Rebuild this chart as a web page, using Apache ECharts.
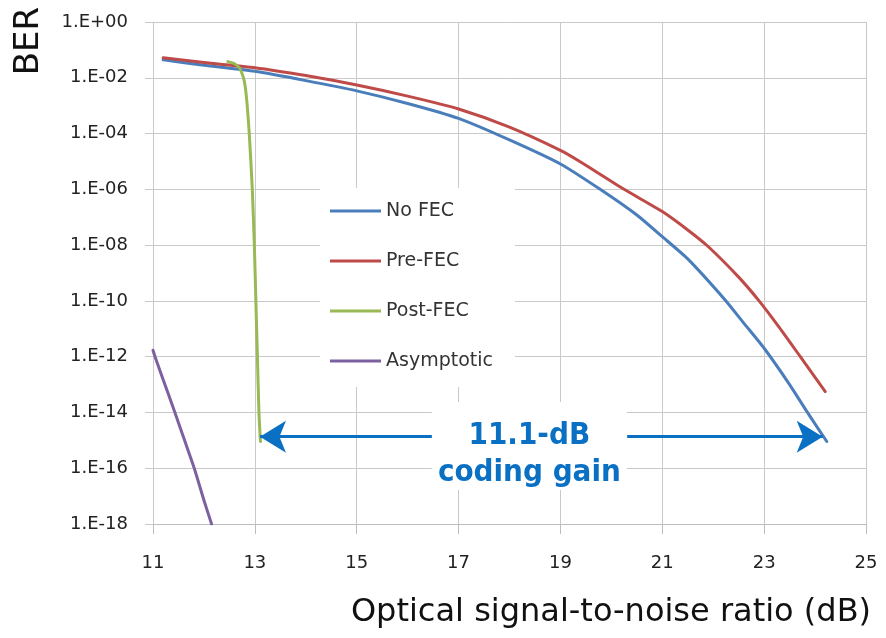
<!DOCTYPE html>
<html>
<head>
<meta charset="utf-8">
<script src="https://cdn.jsdelivr.net/npm/echarts@6/dist/echarts.min.js"></script>
<style>
html, body { margin: 0; padding: 0; background: #fff; }
#main { width: 886px; height: 638px; }
</style>
</head>
<body>
<div id="main"></div>
<script>
// OSNR (dB) and BER
var noFecSnr = [11.2, 12, 13, 14, 15, 16, 17, 18, 19, 19.78, 20.5, 21, 21.5, 22.25, 22.6, 23, 23.5, 23.85, 24.23];
var noFecBer = [4.4e-2, 2.8e-2, 1.7e-2, 7.9e-3, 3.4e-3, 1.2e-3, 3.5e-4, 5.9e-5, 8.1e-6, 1.0e-6, 1.2e-7, 2.0e-8, 3.2e-9, 1.0e-10, 1.6e-11, 2.0e-12, 1.0e-13, 1.0e-14, 9.1e-16];

var preFecSnr = [11.2, 12, 13, 14, 15, 16, 17, 18, 19, 19.38, 20.25, 21, 21.5, 21.9, 22.5, 22.9, 23.3, 23.71, 24.2];
var preFecBer = [5.2e-2, 3.5e-2, 2.3e-2, 1.2e-2, 5.5e-3, 2.2e-3, 7.6e-4, 1.7e-4, 2.5e-5, 1.0e-5, 1.0e-6, 1.6e-7, 3.5e-8, 8.9e-9, 7.1e-10, 1.0e-10, 1.1e-11, 1.0e-12, 5.6e-14];

var postFecSnr = [12.47, 12.6, 12.7, 12.77, 12.81, 12.85, 12.89, 12.95, 12.99, 13.02, 13.05, 13.08, 13.11];
var postFecBer = [3.8e-2, 3.2e-2, 2.2e-2, 1.1e-2, 5.0e-3, 1.0e-3, 1e-4, 1e-6, 1e-8, 1e-10, 1e-12, 1e-14, 9.1e-16];

var asymSnr = [11.0, 11.04, 11.2, 11.43, 11.62, 11.81, 12.0, 12.15];
var asymBer = [1.7e-12, 1e-12, 1.5e-13, 1e-14, 1e-15, 1e-16, 7.1e-18, 1e-18];

var seriesNames = ['No FEC', 'Pre-FEC', 'Post-FEC', 'Asymptotic'];
var seriesColors = ['#4a7ebb', '#be4b48', '#98b954', '#7d60a0'];

// coding gain annotation
var gainFrom = [13.1, 1.35e-15];
var gainTo = [24.15, 1.35e-15];
var gainBoxLeft = 16.48, gainBoxRight = 20.31;
var gainLabelAt = [18.39, 6.3e-16];

function pairs(xs, ys) {
    var out = [];
    for (var i = 0; i < xs.length; i++) out.push([xs[i], ys[i]]);
    return out;
}

var myChart = echarts.init(document.getElementById('main'));
var gridColor = '#c9c9c9';
var textFont = 'DejaVu Sans';

var lines = [
    pairs(noFecSnr, noFecBer),
    pairs(preFecSnr, preFecBer),
    pairs(postFecSnr, postFecBer),
    pairs(asymSnr, asymBer)
];

var series = lines.map(function (d, i) {
    return {
        name: seriesNames[i],
        type: 'line',
        data: d,
        showSymbol: false,
        smooth: 0.2,
        z: 3,
        lineStyle: { color: seriesColors[i], width: 3, join: 'round', cap: 'round' },
        itemStyle: { color: seriesColors[i] }
    };
});

// arrow + label go on the first series
series[0].markLine = {
    silent: true,
    animation: false,
    symbol: ['arrow', 'arrow'],
    symbolSize: [24, 26],
    lineStyle: { color: '#0a70c4', width: 3, type: 'solid' },
    label: { show: false },
    data: [
        [{ coord: gainFrom, symbol: 'arrow' }, { coord: [gainBoxLeft, gainFrom[1]], symbol: 'none' }],
        [{ coord: [gainBoxRight, gainTo[1]], symbol: 'none' }, { coord: gainTo, symbol: 'arrow' }]
    ]
};
series[0].markPoint = {
    silent: true,
    animation: false,
    symbol: 'rect',
    symbolSize: [195, 88],
    itemStyle: { color: '#ffffff' },
    label: {
        show: true,
        position: 'inside',
        offset: [0, 9],
        formatter: '{a|11.1-dB}\n{a|coding gain}',
        rich: {
            a: {
                fontFamily: "'DejaVu Sans Condensed', 'DejaVu Sans', sans-serif",
                fontWeight: 'bold',
                fontSize: 31,
                lineHeight: 37,
                color: '#0a70c4'
            }
        }
    },
    data: [{ coord: gainLabelAt }]
};

var opt = {
    animation: false,
    backgroundColor: '#ffffff',
    grid: { left: 153, right: 20, top: 22, bottom: 114, outerBoundsMode: 'none' },
    legend: {
        orient: 'vertical',
        left: 320,
        top: 188,
        padding: [13, 22, 16, 10],
        backgroundColor: '#ffffff',
        itemWidth: 51,
        itemHeight: 3,
        itemGap: 30,
        icon: 'rect',
        selectedMode: false,
        textStyle: { fontFamily: textFont, fontSize: 19, color: '#333', lineHeight: 20 },
        data: seriesNames
    },
    xAxis: {
        type: 'value',
        min: 11,
        max: 25,
        interval: 2,
        axisLine: { show: true, lineStyle: { color: '#bdbdbd', width: 1 } },
        axisTick: { show: true, length: 10, lineStyle: { color: '#bdbdbd' } },
        axisLabel: { fontFamily: textFont, fontSize: 18, color: '#222', margin: 30 },
        splitLine: { show: true, lineStyle: { color: gridColor, width: 1 } }
    },
    yAxis: {
        type: 'log',
        logBase: 10,
        min: 1e-18,
        max: 1,
        interval: 2,
        axisLine: { show: false },
        axisTick: { show: true, length: 8, lineStyle: { color: gridColor } },
        minorTick: { show: false },
        axisLabel: {
            fontFamily: textFont, fontSize: 18, color: '#222', margin: 25,
            formatter: function (v) {
                var e = Math.round(Math.log10(v));
                var a = Math.abs(e);
                return '1.E' + (e < 0 ? '-' : '+') + (a < 10 ? '0' : '') + a;
            }
        },
        splitLine: { show: true, lineStyle: { color: gridColor, width: 1 } }
    },
    graphic: [
        {
            type: 'text',
            x: 29, y: 41,
            rotation: Math.PI / 2,
            style: { text: 'BER', font: '34px "DejaVu Sans"', fill: '#111', align: 'center', verticalAlign: 'middle' }
        },
        {
            type: 'text',
            x: 611, y: 613,
            style: { text: 'Optical signal-to-noise ratio (dB)', font: '32px "DejaVu Sans"', fill: '#111', align: 'center', verticalAlign: 'middle' }
        }
    ],
    series: series
};
myChart.setOption(opt);
</script>
</body>
</html>
